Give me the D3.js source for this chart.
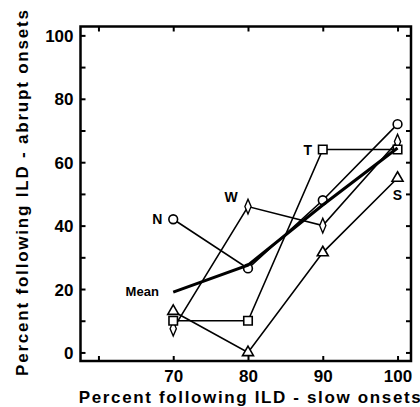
<!DOCTYPE html>
<html>
<head>
<meta charset="utf-8">
<script src="https://cdn.jsdelivr.net/npm/d3@7"></script>
<style>
  body { margin: 0; background: #fff; }
  svg text { font-family: "Liberation Sans", Arial, sans-serif; font-weight: bold; fill: #000; }
</style>
</head>
<body>
<div id="chart"></div>
<script>
// x positions (percent following ILD, slow onsets)
const slowPct = [70, 80, 90, 100]

// percent following ILD, abrupt onsets, per subject
const subjN = [42, 26.5, 48, 72]
const subjW = [7.5, 46, 40, 66.5]
const subjT = [10, 10, 64, 64]
const subjS = [13, 0, 31.5, 55]
const meanVals = [19, 27.5, 46.5, 64.5]

const xTicks = [60, 70, 80, 90, 100]
const xTickLabels = [70, 80, 90, 100]
const yTicks = [0, 10, 20, 30, 40, 50, 60, 70, 80, 90, 100]
const yTickLabels = [0, 20, 40, 60, 80, 100]

const dimensions = {
  width: 420,
  height: 407,
  left: 80.5,
  right: 411,
  top: 26.5,
  bottom: 361
}

const svg = d3.select('#chart')
  .append('svg')
  .attr('width', dimensions.width)
  .attr('height', dimensions.height)

const xScale = d3.scaleLinear()
  .domain([57.6, 101.8])
  .range([dimensions.left, dimensions.right])

const yScale = d3.scaleLinear()
  .domain([-2.7, 102.8])
  .range([dimensions.bottom, dimensions.top])

// ticks (inward, all four sides)
const tickLen = 5
const addTicks = (axis, transform) => {
  const g = svg.append('g')
    .attr('transform', transform)
    .call(axis)
  g.select('.domain').remove()
  g.selectAll('.tick line').attr('stroke', '#000').attr('stroke-width', 2)
  return g
}

const fmtY = d => yTickLabels.includes(d) ? d : ''
const fmtX = d => xTickLabels.includes(d) ? d : ''

const leftG = addTicks(
  d3.axisLeft(yScale).tickValues(yTicks).tickSize(-tickLen).tickPadding(7).tickFormat(fmtY),
  `translate(${dimensions.left},0)`)
leftG.selectAll('.tick text').style('font-size', '17px').attr('dy', '0.36em')

addTicks(
  d3.axisRight(yScale).tickValues(yTicks).tickSize(-tickLen).tickFormat(''),
  `translate(${dimensions.right},0)`)

const bottomG = addTicks(
  d3.axisBottom(xScale).tickValues(xTicks).tickSize(-tickLen).tickPadding(9).tickFormat(fmtX),
  `translate(0,${dimensions.bottom})`)
bottomG.selectAll('.tick text').style('font-size', '17px')

addTicks(
  d3.axisTop(xScale).tickValues(xTicks).tickSize(-tickLen).tickFormat(''),
  `translate(0,${dimensions.top})`)

// frame
svg.append('rect')
  .attr('x', dimensions.left)
  .attr('y', dimensions.top)
  .attr('width', dimensions.right - dimensions.left)
  .attr('height', dimensions.bottom - dimensions.top)
  .attr('fill', 'none')
  .attr('stroke', '#000')
  .attr('stroke-width', 2.5)

// axis titles
svg.append('text')
  .attr('x', (dimensions.left + 417) / 2 + 1)
  .attr('y', 403)
  .attr('text-anchor', 'middle')
  .attr('textLength', 342)
  .attr('lengthAdjust', 'spacing')
  .style('font-size', '17px')
  .text('Percent following ILD - slow onsets')

svg.append('text')
  .attr('transform', 'translate(28,193) rotate(-90)')
  .attr('text-anchor', 'middle')
  .attr('textLength', 366)
  .attr('lengthAdjust', 'spacing')
  .style('font-size', '17px')
  .text('Percent following ILD - abrupt onsets')

const line = d3.line()
  .x((d, i) => xScale(slowPct[i]))
  .y(d => yScale(d))

const series = [
  { name: 'N', values: subjN, marker: 'circle' },
  { name: 'W', values: subjW, marker: 'diamond' },
  { name: 'T', values: subjT, marker: 'square' },
  { name: 'S', values: subjS, marker: 'triangle' }
]

const symbolFor = {
  circle: d3.symbol().type(d3.symbolCircle).size(60),
  square: d3.symbol().type(d3.symbolSquare).size(72),
  triangle: d3.symbol().type(d3.symbolTriangle).size(52),
  diamond: d3.symbol().type(d3.symbolDiamond).size(52)
}

series.forEach(s => {
  svg.append('path')
    .datum(s.values)
    .attr('d', line)
    .attr('fill', 'none')
    .attr('stroke', '#000')
    .attr('stroke-width', 1.6)
})

series.forEach(s => {
  svg.selectAll(null)
    .data(s.values)
    .join('path')
    .attr('transform', (d, i) => `translate(${xScale(slowPct[i])},${yScale(d)})` +
      (s.marker === 'diamond' ? ' scale(0.8,1.1)' : ''))
    .attr('d', symbolFor[s.marker]())
    .attr('fill', '#fff')
    .attr('stroke', '#000')
    .attr('stroke-width', 1.6)
})

// mean
svg.append('path')
  .datum(meanVals)
  .attr('d', line)
  .attr('fill', 'none')
  .attr('stroke', '#000')
  .attr('stroke-width', 3)

// series labels
const labelFor = (txt, x, y, size) => svg.append('text')
  .attr('x', x)
  .attr('y', y)
  .attr('text-anchor', 'middle')
  .attr('dy', '0.36em')
  .style('font-size', size + 'px')
  .text(txt)

labelFor('N', xScale(slowPct[0]) - 16, yScale(subjN[0]), 14)
labelFor('W', xScale(slowPct[1]) - 17, yScale(subjW[1]) - 10, 14)
labelFor('T', xScale(slowPct[2]) - 15, yScale(subjT[2]), 14)
labelFor('S', xScale(slowPct[3]), yScale(subjS[3]) + 17, 14)
labelFor('Mean', xScale(slowPct[0]) - 31, yScale(meanVals[0]) - 1, 13)
</script>
</body>
</html>
